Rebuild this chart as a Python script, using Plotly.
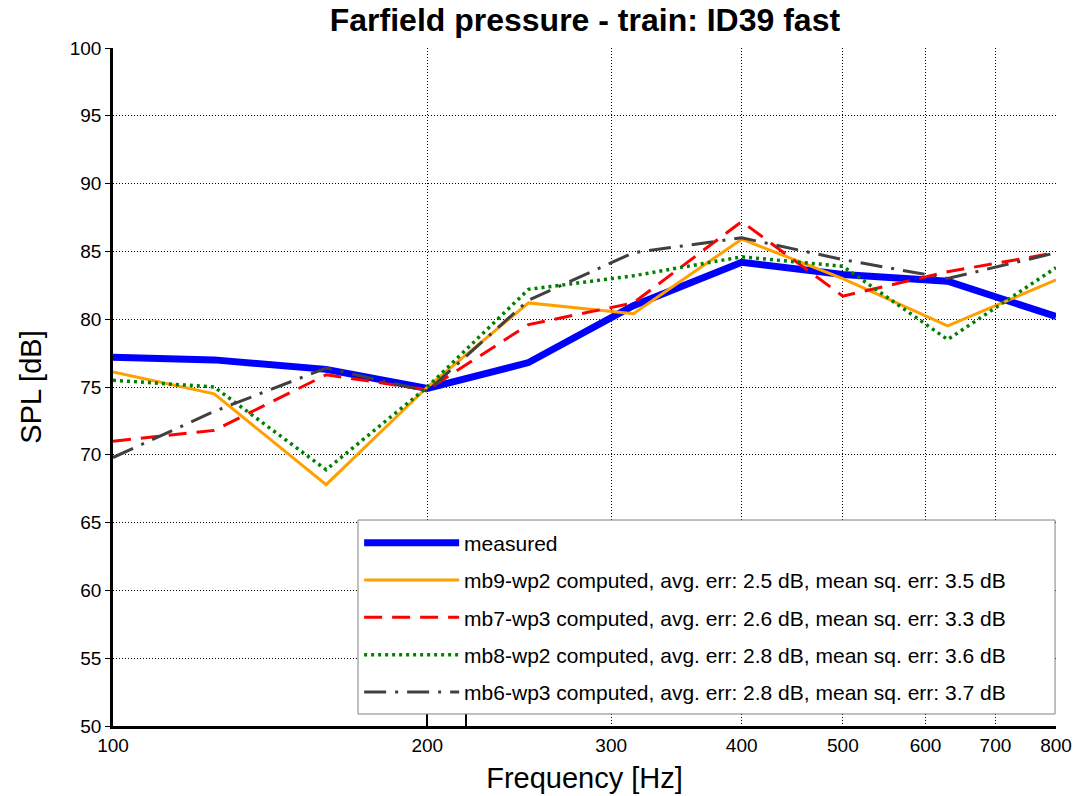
import plotly.graph_objects as go

freq = [100, 125, 160, 200, 250, 315, 400, 500, 630, 800]
measured = [77.2, 77.0, 76.3, 74.9, 76.8, 81.0, 84.2, 83.3, 82.8, 80.2]
mb9_wp2 = [76.1, 74.5, 67.8, 75.0, 81.2, 80.4, 85.9, 83.0, 79.5, 82.9]
mb7_wp3 = [71.0, 71.8, 75.9, 74.8, 79.6, 81.2, 87.2, 81.7, 83.5, 84.9]
mb8_wp2 = [75.5, 75.0, 68.9, 75.0, 82.2, 83.2, 84.6, 83.9, 78.5, 83.8]
mb6_wp3 = [69.8, 73.2, 76.4, 74.7, 81.4, 84.9, 86.0, 84.4, 83.0, 84.9]

names = [
    "measured",
    "mb9-wp2 computed, avg. err: 2.5 dB, mean sq. err: 3.5 dB",
    "mb7-wp3 computed, avg. err: 2.6 dB, mean sq. err: 3.3 dB",
    "mb8-wp2 computed, avg. err: 2.8 dB, mean sq. err: 3.6 dB",
    "mb6-wp3 computed, avg. err: 2.8 dB, mean sq. err: 3.7 dB",
]
series = [measured, mb9_wp2, mb7_wp3, mb8_wp2, mb6_wp3]

x_tickvals = [100, 200, 300, 400, 500, 600, 700, 800]
x_ticktext = ["100", "200", "300", "400", "500", "600", "700", "800"]
y_tickvals = [50, 55, 60, 65, 70, 75, 80, 85, 90, 95, 100]

styles = [
    dict(color="#0000FF", width=7, dash="solid"),
    dict(color="#FFA000", width=3, dash="solid"),
    dict(color="#FF0000", width=3, dash="18px,10px"),
    dict(color="#008000", width=3.5, dash="3px,4px"),
    dict(color="#404040", width=3, dash="22px,9px,3px,9px"),
]

fig = go.Figure()
for i, (nm, ys, st) in enumerate(zip(names, series, styles)):
    fig.add_trace(go.Scatter(x=freq, y=ys, mode="lines", name=nm, line=st,
                             legendgroup=f"g{i}"))

font_family = "Liberation Sans, Arial, sans-serif"
grid_dash = "1px,2px"

fig.update_layout(
    width=1080, height=796,
    margin=dict(l=113, r=24, t=48, b=70),
    paper_bgcolor="white", plot_bgcolor="white",
    font=dict(family=font_family, color="black", size=19),
    title=dict(text="<b>Farfield pressure - train: ID39 fast</b>", x=0.5416, xanchor="center",
               y=0.975, yanchor="middle", font=dict(size=32)),
    showlegend=True,
    legend=dict(x=0.261, y=0.300, xanchor="left", yanchor="top",
                bgcolor="rgba(0,0,0,0)", borderwidth=0,
                font=dict(size=21), tracegroupgap=7, itemwidth=95),
    xaxis=dict(type="log", range=[2, 2.90309], tickvals=x_tickvals, ticktext=x_ticktext,
               showgrid=True, gridcolor="black", griddash=grid_dash, gridwidth=1,
               showline=True, linecolor="black", linewidth=2.5, ticks="", automargin=False,
               zeroline=False, title=dict(text="Frequency [Hz]", font=dict(size=29), standoff=14),
               tickfont=dict(size=19)),
    yaxis=dict(range=[50, 100], tickvals=y_tickvals, showgrid=True, gridcolor="black",
               griddash=grid_dash, gridwidth=1, showline=True, linecolor="black", linewidth=2.5,
               ticks="outside", ticklen=5, tickcolor="black", zeroline=False, automargin=False,
               title=dict(text="SPL [dB]", font=dict(size=29), standoff=20),
               tickfont=dict(size=19)),
    xaxis2=dict(type="log", range=[2, 2.90309], overlaying="x", side="bottom",
                tickvals=[200, 218], ticks="inside", ticklen=12, tickwidth=1.5,
                tickcolor="black", showticklabels=False, showgrid=False, zeroline=False,
                showline=False, automargin=False),
)
# legend box
fig.add_shape(type="rect", xref="paper", yref="paper", x0=0.2598, x1=0.999, y0=0.0177, y1=0.3038,
              fillcolor="white", line=dict(color="#808080", width=1), layer="above")
fig.add_trace(go.Scatter(x=[200], y=[50], xaxis="x2", mode="markers",
                         marker=dict(opacity=0), showlegend=False, hoverinfo="skip"))

fig.write_html("out.html")
